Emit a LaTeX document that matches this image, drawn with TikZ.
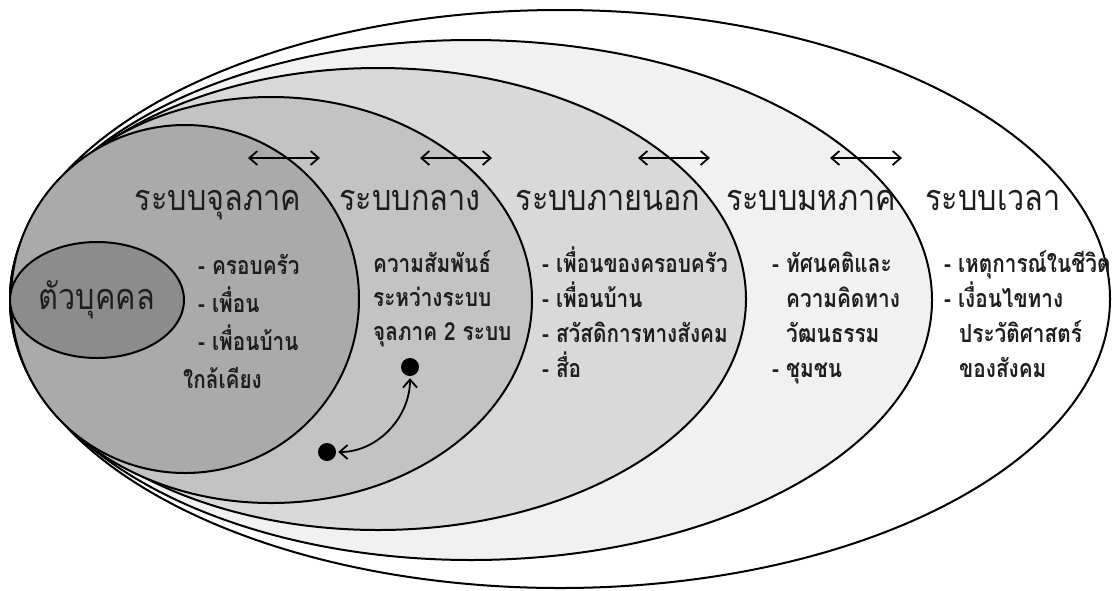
\documentclass[tikz,border=0pt]{standalone}
\usepackage{fontspec}
\setmainfont[Script=Thai]{Loma}
\newfontfamily\titlefont[Script=Thai,FakeStretch=0.85]{Loma}
\newfontfamily\bodyfont[Script=Thai,FakeStretch=0.83]{Loma}
\usetikzlibrary{arrows.meta,shapes.geometric}
\definecolor{fillA}{HTML}{8C8C8C}
\definecolor{fillB}{HTML}{AAAAAA}
\definecolor{fillC}{HTML}{C3C3C3}
\definecolor{fillD}{HTML}{D9D9D9}
\definecolor{fillE}{HTML}{F1F1F1}
\definecolor{ink}{HTML}{1E1E1E}
\tikzset{
  ring/.style={draw=black, line width=2pt, ellipse, inner sep=0pt},
  title/.style={font=\titlefont\fontsize{36}{40}\selectfont, anchor=base, text=ink, inner sep=0pt},
  item/.style={font=\bodyfont\bfseries\fontsize{25}{28}\selectfont, anchor=base west, text=ink, inner sep=0pt},
  link/.style={line width=1.8pt, {Straight Barb[length=8pt,width=14pt]}-{Straight Barb[length=8pt,width=14pt]}},
  dot/.style={circle, fill=black, minimum size=18pt, inner sep=0pt},
}
\begin{document}
\begin{tikzpicture}[x=1pt,y=-1pt]
\useasboundingbox (0,0) rectangle (1113,590);
\fill[white] (0,0) rectangle (1113,590);
% nested systems
\node[ring, fill=white, minimum width=1100pt, minimum height=578pt] (chrono) at (560,299) {};
\node[ring, fill=fillE, minimum width=922pt, minimum height=520pt] (macro) at (471,300) {};
\node[ring, fill=fillD, minimum width=736pt, minimum height=462pt] (exo) at (378,299) {};
\node[ring, fill=fillC, minimum width=522pt, minimum height=406pt] (meso) at (271,300) {};
\node[ring, fill=fillB, minimum width=348pt, minimum height=348pt] (micro) at (185,299) {};
\node[ring, fill=fillA, minimum width=174pt, minimum height=116pt] (indiv) at (97,300) {};
% titles
\node[title] (tIndiv) at (97,309) {ตัวบุคคล};
\node[title] (tMicro) at (218,210) {ระบบจุลภาค};
\node[title] (tMeso) at (410,210) {ระบบกลาง};
\node[title] (tExo) at (608,210) {ระบบภายนอก};
\node[title] (tMacro) at (811,210) {ระบบมหภาค};
\node[title] (tChrono) at (993,210) {ระบบเวลา};
% arrows between systems
\coordinate (a1l) at (248,158); \coordinate (a1r) at (320,158);
\coordinate (a2l) at (420,158); \coordinate (a2r) at (492,158);
\coordinate (a3l) at (638,158); \coordinate (a3r) at (710,158);
\coordinate (a4l) at (830,158); \coordinate (a4r) at (902,158);
\draw[link] (a1l) -- (a1r);
\draw[link] (a2l) -- (a2r);
\draw[link] (a3l) -- (a3r);
\draw[link] (a4l) -- (a4r);
% micro
\node[item] (mi1) at (198,274) {- ครอบครัว};
\node[item] (mi2) at (198,312) {- เพื่อน};
\node[item] (mi3) at (198,350) {- เพื่อนบ้าน};
\node[item] (mi4) at (183,388) {ใกล้เคียง};
% meso
\node[item] (me1) at (373,272) {ความสัมพันธ์};
\node[item] (me2) at (373,306) {ระหว่างระบบ};
\node[item] (me3) at (373,340) {จุลภาค 2 ระบบ};
\node[dot] (d1) at (410,367) {};
\node[dot] (d2) at (327,452) {};
\draw[link, shorten <=2pt, shorten >=2pt] (d1) to[out=-90,in=0] (d2);
% exo
\node[item] (ex1) at (542,272) {- เพื่อนของครอบครัว};
\node[item] (ex2) at (542,307) {- เพื่อนบ้าน};
\node[item] (ex3) at (542,342) {- สวัสดิการทางสังคม};
\node[item] (ex4) at (542,377) {- สื่อ};
% macro
\node[item] (ma1) at (772,272) {- ทัศนคติและ};
\node[item] (ma2) at (786,307) {ความคิดทาง};
\node[item] (ma3) at (786,342) {วัฒนธรรม};
\node[item] (ma4) at (772,377) {- ชุมชน};
% chrono
\node[item] (ch1) at (944,272) {- เหตุการณ์ในชีวิต};
\node[item] (ch2) at (944,307) {- เงื่อนไขทาง};
\node[item] (ch3) at (959,342) {ประวัติศาสตร์};
\node[item] (ch4) at (959,377) {ของสังคม};
\end{tikzpicture}
\end{document}
